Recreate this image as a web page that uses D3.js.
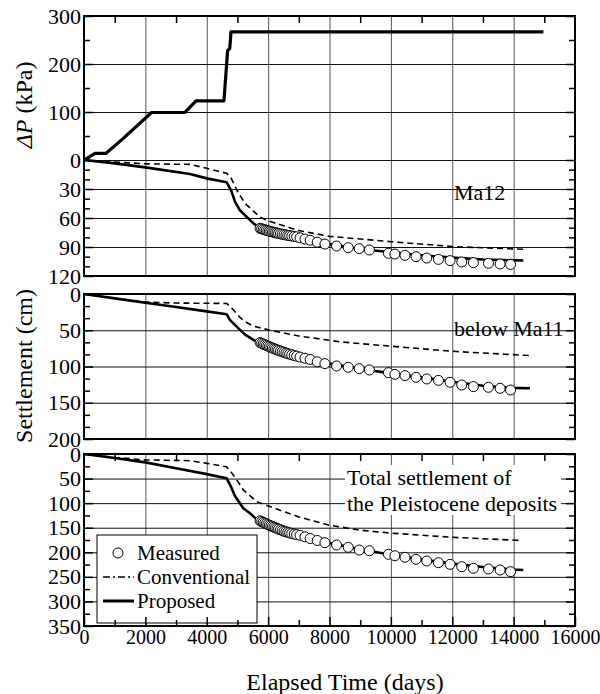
<!DOCTYPE html>
<html><head><meta charset="utf-8">
<script src="https://cdn.jsdelivr.net/npm/d3@7"></script>
<style>
body{margin:0;background:#fff}
svg text, svg tspan{font-family:'Liberation Serif' !important;}
</style>
</head><body>
<svg id="c" width="600" height="694"></svg>
<script>
// ---------------- data ----------------
const xTickValues = [0,2000,4000,6000,8000,10000,12000,14000,16000];
const xMinorTicks = [1000,3000,5000,7000,9000,11000,13000,15000];

// Applied load ΔP (kPa)
const dpTime  = [0,360,720,1280,2200,3290,3650,4560,4680,4750,4790,14970];
const dpValue = [0,14,14,45,99,99,123,123,228,232,267,267];

// Measured settlement times (days)
const measTime = [5740,5790,5840,5890,5940,5990,6040,6090,6140,6190,6240,6290,6340,6400,6460,6520,6580,6640,6700,6770,6850,6930,7040,7200,7370,7600,7850,8230,8610,8970,9300,9920,10130,10460,10820,11170,11550,11930,12310,12690,13180,13560,13900];

// Ma12 (cm)
const ma12Meas = [70.7,71.2,71.7,72.2,72.7,73.2,73.6,74.0,74.4,74.8,75.2,75.6,76.0,76.4,76.8,77.2,77.6,78.0,78.3,78.7,79.1,79.5,80.5,81.8,83.0,85.0,87.0,89.0,90.7,91.7,93.1,96.5,97.3,98.6,100.0,101.4,102.8,104.1,105.5,106.2,106.9,107.6,108.0];
const ma12PropT = [0,1000,2000,3450,4000,4650,4800,4920,5080,5520,5630,6000,6500,7000,8000,9000,10000,11000,12000,13000,14316];
const ma12PropV = [0,3.5,7.6,14.5,19,23,32,43,52,65.5,68,72,77,81,87,92,95.5,98.5,101,103,104];
const ma12ConvT = [0,1000,2000,3450,4000,4650,4800,4975,5250,5630,5735,6000,6700,7000,8000,10000,12000,14316];
const ma12ConvV = [0,2,4,4.5,8.6,13.8,19,31,45,56,59,63,70,73,79,84.5,89.5,92.4];

// below Ma11 (cm)
const ma11Meas = [67,68,69,70,70.9,71.8,72.7,73.6,74.5,75.4,76.2,77,77.8,78.7,79.6,80.5,81.4,82.2,83,83.9,84.8,85.7,87,88.6,90.3,93.5,96,99.3,101.1,103,104.8,108.5,110.8,112.6,114.9,117.2,119.1,121.8,125.5,127.8,128.7,130.1,132.4];
const ma11PropT = [0,1000,2000,3000,4000,4650,4760,5000,5250,5520,5630,6000,6500,7000,8000,9000,10000,11000,12000,13000,13900,14534];
const ma11PropV = [0,6,12,18,24,28,36,46,56,63.4,65.5,71,79,86,96,103,109.5,115,121,126.5,129.5,130];
const ma11ConvT = [0,1000,2000,3000,4000,4650,4870,5100,5250,5500,6060,7000,7690,8340,10000,12000,14534];
const ma11ConvV = [0,6,11,12.5,12.8,13,22,33,38,44,50,58,62,66,72,79,85];

// Total settlement of the Pleistocene deposits (cm)
const totMeas = [136,137.5,139,140.5,142,143.5,145,146.3,147.6,148.9,150.2,151.5,152.8,154.2,155.6,157,158.2,159.4,160.6,161.8,163,164,165.5,168.5,172,176,180.5,185.2,189.9,195.4,196.8,204.1,207,210.2,214.3,217.8,221.2,224.5,229.3,232.6,234,236,239.5];
const totPropT = [0,1000,2000,3000,4000,4650,4800,4920,5190,5410,5630,6000,6500,7000,8000,9000,10000,11000,12000,13000,14000,14316];
const totPropV = [0,8,17,29,41,49.5,68,85.5,110.5,120.7,133,145,155,164,181,194,205,215,223,230,235,236];
const totConvT = [0,1000,2000,3450,4000,4650,4870,5080,5190,5630,6060,7000,8000,9000,10000,12000,14261];
const totConvV = [0,7,12,13.6,19,26,43,62,73,97,107,128,145,155,161,169.5,176];

// ---------------- layout ----------------
const FONT = "Liberation Serif";
const FSTYLE = "font-family:'Liberation Serif'";
const svg = d3.select("#c");
const L = 84, R = 575;
const x = d3.scaleLinear().domain([0,16000]).range([L,R]);
const yP = d3.scaleLinear().domain([0,300]).range([160,16]);
const yA = d3.scaleLinear().domain([0,120]).range([160,276]);
const yB = d3.scaleLinear().domain([0,200]).range([294,439]);
const yC = d3.scaleLinear().domain([0,350]).range([454,626]);
const boxes = [{top:16,bottom:276},{top:294,bottom:439},{top:454,bottom:626}];
const gridX = [2000,4000,6000,8000,10000,12000,14000];

const gGrid = svg.append("g");
const gBg = svg.append("g");
const gData = svg.append("g");
const gAxes = svg.append("g");

// vertical gridlines
boxes.forEach(b=>{
  const a = d3.axisBottom(x).tickValues(gridX).tickSize(-(b.bottom-b.top)).tickFormat("");
  const g = gGrid.append("g").attr("transform",`translate(0,${b.bottom})`).call(a);
  g.select(".domain").remove();
  g.selectAll("text").remove();
  g.selectAll("line").attr("stroke","#555").attr("stroke-width",1);
});
// horizontal gridlines
function hgrid(scale, vals){
  const a = d3.axisLeft(scale).tickValues(vals).tickSize(-(R-L)).tickFormat("");
  const g = gGrid.append("g").attr("transform",`translate(${L},0)`).call(a);
  g.select(".domain").remove();
  g.selectAll("text").remove();
  g.selectAll("line").attr("stroke","#111").attr("stroke-width",1);
}
hgrid(yP,[0,100,200]);
hgrid(yA,[30,60,90]);
hgrid(yB,[50,100,150]);
hgrid(yC,[50,100,150,200,250,300]);

// ---------------- data marks ----------------
function drawLine(ts, vs, yS, opts){
  const pts = ts.map((t,i)=>[t,vs[i]]);
  gData.append("path").datum(pts)
    .attr("d", d3.line().x(d=>x(d[0])).y(d=>yS(d[1])))
    .attr("fill","none").attr("stroke","#000")
    .attr("stroke-width",opts.w)
    .attr("stroke-dasharray",opts.dash||null)
    .attr("stroke-linejoin","round");
}
function drawCircles(vs, yS){
  gData.append("g").selectAll("circle").data(measTime.map((t,i)=>[t,vs[i]])).join("circle")
    .attr("cx",d=>x(d[0])).attr("cy",d=>yS(d[1])).attr("r",5)
    .attr("fill","#fff").attr("stroke","#000").attr("stroke-width",1);
}
drawLine(dpTime, dpValue, yP, {w:3.2});
drawLine(ma12ConvT, ma12ConvV, yA, {w:1.6, dash:"6,4"});
drawLine(ma12PropT, ma12PropV, yA, {w:2.6});
drawCircles(ma12Meas, yA);
drawLine(ma11ConvT, ma11ConvV, yB, {w:1.6, dash:"6,4"});
drawLine(ma11PropT, ma11PropV, yB, {w:2.6});
drawCircles(ma11Meas, yB);
drawLine(totConvT, totConvV, yC, {w:1.6, dash:"6,4"});
drawLine(totPropT, totPropV, yC, {w:2.6});
drawCircles(totMeas, yC);

// ---------------- text labels with white background ----------------
function label(lines, xPos, yPos, size, w, h){
  const g = gBg.append("g");
  g.append("rect").attr("x",xPos-2).attr("y",yPos[0]-h/2).attr("width",w)
    .attr("height",h + (yPos.length-1)*(yPos[1]-yPos[0])).attr("fill","#fff");
  const t = g.append("text").attr("font-size",size).attr("font-family",FONT).attr("style",FSTYLE);
  lines.forEach((s,i)=>{
    t.append("tspan").attr("x",xPos).attr("y",yPos[i]).attr("dy","0.35em").text(s);
  });
}
label(["Ma12"], 454, [192], 22, 52, 22);
label(["below Ma11"], 454, [328], 22, 110, 22);
label(["Total settlement of","the Pleistocene deposits"], 347, [477,503], 22, 216, 24);

// ---------------- legend ----------------
const lg = gData.append("g");
lg.append("rect").attr("x",97).attr("y",535).attr("width",160).attr("height",88)
  .attr("fill","#fff").attr("stroke","#000").attr("stroke-width",1);
lg.append("circle").attr("cx",118).attr("cy",553).attr("r",5).attr("fill","#fff").attr("stroke","#000");
lg.append("line").attr("x1",103).attr("x2",134).attr("y1",577).attr("y2",577)
  .attr("stroke","#000").attr("stroke-width",1.5).attr("stroke-dasharray","7,3,2,3");
lg.append("line").attr("x1",103).attr("x2",134).attr("y1",601).attr("y2",601)
  .attr("stroke","#000").attr("stroke-width",3);
[["Measured",553],["Conventional",577],["Proposed",601]].forEach(([s,yy])=>{
  lg.append("text").attr("x",137).attr("y",yy).attr("dy","0.35em").attr("font-size",21)
    .attr("font-family",FONT).attr("style",FSTYLE).text(s);
});

// ---------------- axes ----------------
function styleAxis(g, size){
  g.attr("font-family",FONT).attr("font-size",size);
  g.selectAll("text").attr("font-size",size).attr("font-family",FONT).attr("style",FSTYLE).attr("fill","#000");
  g.selectAll("line").attr("stroke","#000").attr("stroke-width",1.5);
  g.select(".domain").remove();
}
function leftAxis(scale, majors, minors){
  const a = d3.axisLeft(scale).tickValues(majors).tickSizeInner(-9).tickSizeOuter(0).tickPadding(3);
  const g = gAxes.append("g").attr("transform",`translate(${L},0)`).call(a);
  styleAxis(g, 22);
  const m = gAxes.append("g").attr("transform",`translate(${L},0)`)
    .call(d3.axisLeft(scale).tickValues(minors).tickSize(-6).tickFormat(""));
  m.selectAll("text").remove(); styleAxis(m, 22);
  const gr = gAxes.append("g").attr("transform",`translate(${R},0)`)
    .call(d3.axisRight(scale).tickValues(majors).tickSize(-9).tickFormat(""));
  gr.selectAll("text").remove(); styleAxis(gr, 22);
  const mr = gAxes.append("g").attr("transform",`translate(${R},0)`)
    .call(d3.axisRight(scale).tickValues(minors).tickSize(-6).tickFormat(""));
  mr.selectAll("text").remove(); styleAxis(mr, 22);
}
leftAxis(yP,[0,100,200,300],[50,150,250]);
leftAxis(yA,[30,60,90,120],[10,20,40,50,70,80,100,110]);
leftAxis(yB,[0,50,100,150,200],d3.range(0,200,50).flatMap(v=>[v+50/3,v+100/3]));
leftAxis(yC,[0,50,100,150,200,250,300,350],[25,75,125,175,225,275,325]);

// top ticks (box 1 and box 3)
[16,454].forEach(yy=>{
  const g = gAxes.append("g").attr("transform",`translate(0,${yy})`)
    .call(d3.axisTop(x).tickValues(xMinorTicks).tickSize(-7).tickFormat(""));
  g.selectAll("text").remove(); styleAxis(g,20);
});
// bottom axis
const gb = gAxes.append("g").attr("transform",`translate(0,626)`)
  .call(d3.axisBottom(x).tickValues(xTickValues).tickSizeInner(-9).tickSizeOuter(0).tickPadding(4).tickFormat(d3.format("d")));
styleAxis(gb,20);
const gbm = gAxes.append("g").attr("transform",`translate(0,626)`)
  .call(d3.axisBottom(x).tickValues(xMinorTicks).tickSize(-6).tickFormat(""));
gbm.selectAll("text").remove(); styleAxis(gbm,20);

// frames
boxes.forEach(b=>{
  gAxes.append("rect").attr("x",L).attr("y",b.top).attr("width",R-L).attr("height",b.bottom-b.top)
    .attr("fill","none").attr("stroke","#000").attr("stroke-width",2);
});

// axis titles
const t1 = gAxes.append("text").attr("transform","translate(32,105) rotate(-90)")
  .attr("text-anchor","middle").attr("font-size",24).attr("font-family",FONT).attr("style",FSTYLE);
t1.append("tspan").attr("font-style","italic").text("ΔP");
t1.append("tspan").text(" (kPa)");
gAxes.append("text").attr("transform","translate(32,366) rotate(-90)")
  .attr("text-anchor","middle").attr("font-size",24).attr("font-family",FONT).attr("style",FSTYLE).text("Settlement (cm)");
gAxes.append("text").attr("x",345).attr("y",682).attr("dy","0.35em")
  .attr("text-anchor","middle").attr("font-size",24).attr("font-family",FONT).attr("style",FSTYLE).text("Elapsed Time (days)");
</script>
</body></html>
